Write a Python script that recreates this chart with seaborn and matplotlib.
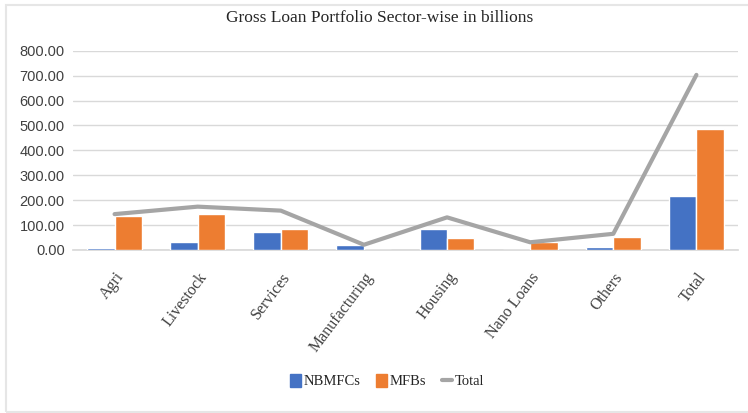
import matplotlib
matplotlib.use("Agg")
import matplotlib.pyplot as plt
import matplotlib.patches as mpatches
import matplotlib.lines as mlines
import seaborn as sns
import pandas as pd

# Gross loan portfolio by sector (PKR billions)
sectors = ["Agri", "Livestock", "Services", "Manufacturing", "Housing",
           "Nano Loans", "Others", "Total"]
nbmfcs = [8, 31, 74, 20, 84, 0, 12, 218]
mfbs = [136, 143, 84, 1, 47, 31, 53, 485]
total = [144, 174, 158, 21, 131, 31, 65, 703]
yticks = [0, 100, 200, 300, 400, 500, 600, 700, 800]

BLUE = "#4472C4"
ORANGE = "#ED7D31"
GREY = "#A5A5A5"
SERIF = "Liberation Serif"

sns.set_theme(style="white")
plt.rcParams["font.family"] = ["Liberation Sans", "DejaVu Sans"]

bars = pd.DataFrame({
    "sector": sectors * 2,
    "value": nbmfcs + mfbs,
    "series": ["NBMFCs"] * len(sectors) + ["MFBs"] * len(sectors),
})
line = pd.DataFrame({"sector": sectors, "total": total})

fig = plt.figure(figsize=(7.48, 4.13), dpi=100)
ax = fig.add_axes([0.0976, 0.3947, 0.889, 0.4825])

sns.barplot(data=bars, x="sector", y="value", hue="series",
            palette={"NBMFCs": BLUE, "MFBs": ORANGE}, width=0.66, gap=0,
            order=sectors, hue_order=["NBMFCs", "MFBs"],
            saturation=1, legend=False, ax=ax, zorder=3)
sns.lineplot(data=line, x="sector", y="total", sort=False, color=GREY,
             linewidth=3, ax=ax, zorder=4)

ax.set_xlim(-0.5, len(sectors) - 0.5)
ax.set_ylim(0, 800)
ax.set_yticks(yticks)
ax.set_yticklabels([f"{v:.2f}" for v in yticks], fontsize=10.5, color="#404040")
ax.yaxis.grid(True, color="#D9D9D9", linewidth=1)
ax.set_axisbelow(True)
for s in ["top", "right", "left"]:
    ax.spines[s].set_visible(False)
ax.spines["bottom"].set_color("#D9D9D9")
ax.tick_params(axis="both", length=0, pad=6)
ax.set_xlabel("")
ax.set_ylabel("")
ax.set_xticks(range(len(sectors)))
ax.set_xticklabels(sectors, rotation=53, ha="right", rotation_mode="anchor",
                   family=SERIF, fontsize=11.5, color="#404040")
ax.tick_params(axis="x", pad=14)

fig.text(0.508, 0.957, "Gross Loan Portfolio Sector-wise in billions",
         ha="center", va="center", family=SERIF, fontsize=12.5, color="#262626")

handles = [
    mpatches.Patch(color=BLUE, label="NBMFCs"),
    mpatches.Patch(color=ORANGE, label="MFBs"),
    mlines.Line2D([], [], color=GREY, linewidth=3, label="Total"),
]
fig.legend(handles=handles, loc="center", bbox_to_anchor=(0.518, 0.077),
           ncol=3, frameon=False, prop={"family": SERIF, "size": 10.5},
           handlelength=0.7, handleheight=1.0, handletextpad=0.2,
           columnspacing=1.1, labelcolor="#262626")

# light chart-area border
fig.add_artist(mpatches.Rectangle((0.008, 0.003), 1.1, 0.985,
                                  transform=fig.transFigure, fill=False,
                                  edgecolor="#E6E6E6", linewidth=1.5))

fig.savefig("out.png", dpi=100)
